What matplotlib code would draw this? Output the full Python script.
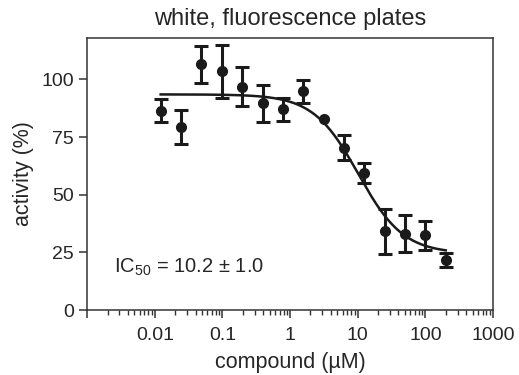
import numpy as np
import matplotlib
matplotlib.use("Agg")
import matplotlib.pyplot as plt
from matplotlib.ticker import LogLocator, FixedLocator, NullFormatter

# measured points (2-fold dilution series)
conc = [0.0122, 0.0244, 0.0488, 0.0977, 0.195, 0.391, 0.781, 1.56,
        3.13, 6.25, 12.5, 25.0, 50.0, 100.0, 200.0]
activity = [86.4, 79.3, 106.5, 103.6, 96.8, 89.6, 87.1, 94.9,
            82.8, 70.4, 59.4, 34.2, 33.2, 32.4, 21.7]
# the 3 uM point has no visible bar
err = [5.0, 7.5, 8.0, 11.5, 8.5, 8.0, 5.0, 5.0,
       np.nan, 5.5, 4.5, 9.8, 8.0, 6.3, 3.0]

# fit parameters of the dose-response curve
top = 93.5
bottom = 24.5
ic50 = 10.2
hill = 1.3

plt.rcParams['font.family'] = ['Liberation Sans', 'DejaVu Sans']
plt.rcParams['mathtext.default'] = 'regular'
ink = '#1a1a1a'
txt = '#262626'

fig = plt.figure(figsize=(5.19, 3.75), dpi=100)
ax = fig.add_axes([0.168, 0.173, 0.782, 0.726])

xs = np.logspace(np.log10(conc[0]), np.log10(conc[-1]), 300)
fit = bottom + (top - bottom) / (1 + (xs / ic50) ** hill)
ax.plot(xs, fit, color=ink, lw=1.8, zorder=2)

ax.errorbar(conc, activity, yerr=err, fmt='none', ecolor=ink,
            elinewidth=2.2, capsize=4.8, capthick=2.2, zorder=3)
ax.plot(conc, activity, 'o', color=ink, ms=7, zorder=4)

ax.set_xscale('log')
ax.set_xlim(0.001, 1000)
ax.set_ylim(0, 118)
ax.xaxis.set_major_locator(FixedLocator([0.001, 0.01, 0.1, 1, 10, 100, 1000]))
ax.set_xticklabels(['', '0.01', '0.1', '1', '10', '100', '1000'])
ax.xaxis.set_minor_locator(LogLocator(base=10, subs=np.arange(2, 10), numticks=20))
ax.xaxis.set_minor_formatter(NullFormatter())
ax.set_yticks([0, 25, 50, 75, 100])

for s in ax.spines.values():
    s.set_color('#333333')
    s.set_linewidth(1.1)
ax.tick_params(which='major', direction='out', length=6, width=1.1,
               colors='#333333', labelcolor=txt, labelsize=14)
ax.tick_params(axis='x', which='major', pad=6)
ax.tick_params(which='minor', direction='out', length=3.5, width=1.0,
               colors='#333333')

ax.set_title('white, fluorescence plates', fontsize=17, color=txt, pad=9)
ax.set_xlabel('compound (µM)', fontsize=15.5, color=txt, labelpad=6)
ax.set_ylabel('activity (%)', fontsize=15.5, color=txt, labelpad=5)

ax.text(0.066, 0.158, 'IC$_{50}$ = 10.2 ± 1.0', transform=ax.transAxes,
        fontsize=14.5, color=txt, va='center', ha='left')

fig.savefig('out.png', dpi=100)
